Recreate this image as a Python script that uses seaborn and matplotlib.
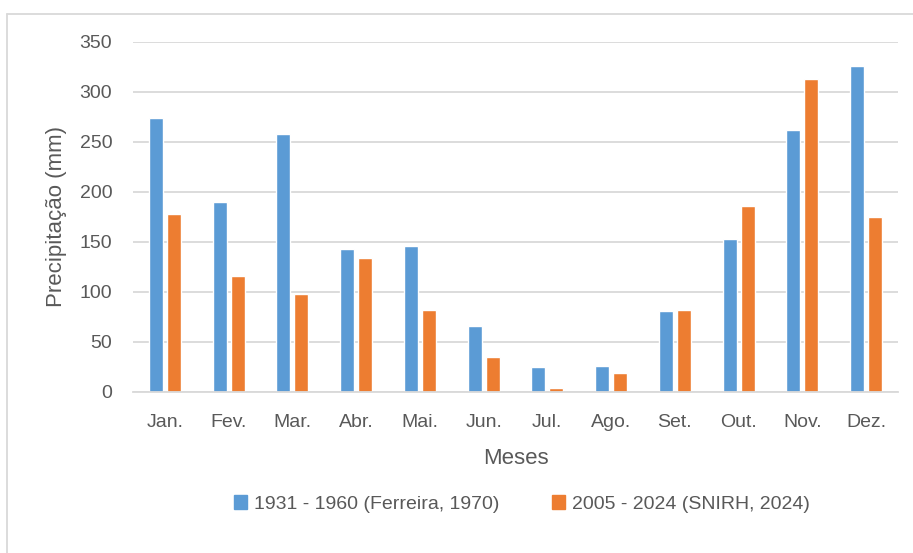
import matplotlib
matplotlib.use("Agg")
import matplotlib.pyplot as plt
import seaborn as sns
import pandas as pd
from matplotlib.patches import Rectangle
from matplotlib.lines import Line2D

meses = ["Jan.", "Fev.", "Mar.", "Abr.", "Mai.", "Jun.", "Jul.", "Ago.", "Set.", "Out.", "Nov.", "Dez."]
serie_1931_1960 = [274, 190, 258, 143, 146, 66, 25, 26, 81, 153, 262, 326]
serie_2005_2024 = [178, 116, 98, 134, 82, 35, 4, 19, 82, 186, 313, 175]
nome_1931 = "1931 - 1960 (Ferreira, 1970)"
nome_2005 = "2005 - 2024 (SNIRH, 2024)"
y_ticks = [0, 50, 100, 150, 200, 250, 300, 350]

df = pd.DataFrame({
    "Mês": meses * 2,
    "Precipitação": serie_1931_1960 + serie_2005_2024,
    "Série": [nome_1931] * len(meses) + [nome_2005] * len(meses),
})

sns.set_theme(style="white")
plt.rcParams["font.family"] = ["Liberation Sans", "DejaVu Sans"]
text_col = "#595959"
grid_col = "#D9D9D9"

W, H = 913, 553
fig = plt.figure(figsize=(W / 100, H / 100), dpi=100)
ax = fig.add_axes([133 / W, 1 - 391.7 / H, (898 - 133) / W, (391.7 - 41.7) / H])

# chart-area frame (left and top edges)
fx, fy = 7 / W, 1 - 14 / H
fig.add_artist(Line2D([fx, fx], [0, fy], transform=fig.transFigure, color=grid_col, lw=1.3))
fig.add_artist(Line2D([fx, 1], [fy, fy], transform=fig.transFigure, color=grid_col, lw=1.3))

sns.barplot(data=df, x="Mês", y="Precipitação", hue="Série", order=meses,
            hue_order=[nome_1931, nome_2005], palette=["#5B9BD5", "#ED7D31"],
            width=0.565, gap=0.22, ax=ax, legend=False, errorbar=None, saturation=1)

ax.set_ylim(0, 350)
ax.set_yticks(y_ticks)
ax.set_xlim(-0.5, len(meses) - 0.5)
ax.yaxis.grid(True, color=grid_col, linewidth=1.3)
ax.set_axisbelow(True)
for s in ["top", "right", "left"]:
    ax.spines[s].set_visible(False)
ax.spines["bottom"].set_color(grid_col)
ax.spines["bottom"].set_linewidth(1.3)
ax.tick_params(axis="both", length=0, labelsize=14, colors=text_col)
ax.tick_params(axis="y", pad=15)
ax.tick_params(axis="x", pad=16)
ax.set_xlabel("Meses", fontsize=16, color=text_col, labelpad=12)
ax.set_ylabel("Precipitação (mm)", fontsize=16, color=text_col, labelpad=9)

handles = [Rectangle((0, 0), 1, 1, color="#5B9BD5"), Rectangle((0, 0), 1, 1, color="#ED7D31")]
fig.legend(handles, [nome_1931, nome_2005], loc="center", bbox_to_anchor=(522 / W, 1 - 504 / H),
           ncol=2, frameon=False, fontsize=14, handlelength=0.67, handleheight=0.67,
           handletextpad=0.36, columnspacing=2.7, labelcolor=text_col)

fig.savefig("out.png", dpi=100)
